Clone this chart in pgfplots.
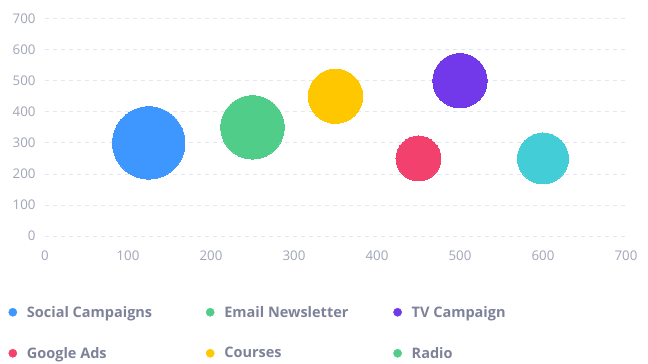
\documentclass[border=0pt]{standalone}
\usepackage{pgfplots}
\pgfplotsset{compat=1.18}
\usepackage{fontspec}
\setmainfont{Open Sans}
\definecolor{cBlue}{HTML}{3E97FF}
\definecolor{cGreen}{HTML}{50CD89}
\definecolor{cPurple}{HTML}{7239EA}
\definecolor{cRed}{HTML}{F1416C}
\definecolor{cYellow}{HTML}{FFC700}
\definecolor{cCyan}{HTML}{43CED7}
\definecolor{tickgray}{HTML}{A1A5B7}
\definecolor{leggray}{HTML}{7E8299}
\definecolor{gridgray}{HTML}{E4E6EF}
\begin{document}
\begin{tikzpicture}[x=1pt,y=1pt]
\useasboundingbox (0,0) rectangle (648,364);
\begin{axis}[
  at={(45pt,127.8pt)}, anchor=south west,
  scale only axis, width=581pt, height=217.7pt,
  xmin=0, xmax=700, ymin=0, ymax=700,
  xtick={0,100,...,700}, ytick={0,100,...,700},
  axis line style={draw=none},
  major tick length=0pt,
  ymajorgrids,
  major grid style={color=gridgray, line width=0.9pt, dash pattern=on 4pt off 4pt},
  tick label style={font=\fontsize{13.3}{15}\selectfont, color=tickgray},
  /pgf/number format/assume math mode=true,
  xticklabel style={yshift=-11pt},
  yticklabel style={xshift=-6pt},
  clip=false,
  legend columns=3,
  legend cell align=left,
  legend image code/.code={\fill[#1] (4.1pt,0pt) circle (4.1pt); \path (0pt,0pt) (18pt,0pt);},
  legend style={draw=none, fill=none, inner sep=0pt, outer sep=0pt,
    at={(-0.0628,-0.3206)}, anchor=north west,
    nodes={inner sep=0pt, font=\fontsize{14.5}{16}\selectfont\bfseries, text=leggray},
    column sep=0pt, row sep=28.5pt},
]
\addplot[forget plot, only marks, mark=*, color=cBlue, mark options={line width=0pt}, mark size=36.2pt] coordinates {(125,300)};
\addplot[forget plot, only marks, mark=*, color=cGreen, mark options={line width=0pt}, mark size=31.7pt] coordinates {(250,350)};
\addplot[forget plot, only marks, mark=*, color=cYellow, mark options={line width=0pt}, mark size=27.2pt] coordinates {(350,450)};
\addplot[forget plot, only marks, mark=*, color=cPurple, mark options={line width=0pt}, mark size=27.2pt] coordinates {(500,500)};
\addplot[forget plot, only marks, mark=*, color=cRed, mark options={line width=0pt}, mark size=22.5pt] coordinates {(450,250)};
\addplot[forget plot, only marks, mark=*, color=cCyan, mark options={line width=0pt}, mark size=25.5pt] coordinates {(600,250)};
\addlegendimage{color=cBlue}
\addlegendentry{\makebox[179pt][l]{Social Campaigns}}
\addlegendimage{color=cGreen}
\addlegendentry{\makebox[169pt][l]{Email Newsletter}}
\addlegendimage{color=cPurple}
\addlegendentry{TV Campaign}
\addlegendimage{color=cRed}
\addlegendentry{\makebox[179pt][l]{Google Ads}}
\addlegendimage{color=cYellow}
\addlegendentry{\makebox[169pt][l]{Courses}}
\addlegendimage{color=cGreen}
\addlegendentry{Radio}
\end{axis}
\end{tikzpicture}
\end{document}
